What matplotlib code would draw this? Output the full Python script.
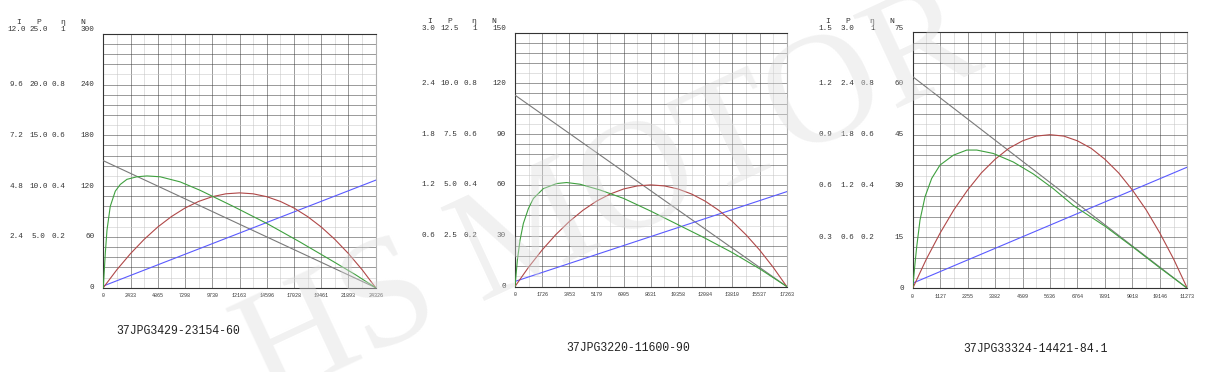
import numpy as np
import matplotlib.pyplot as plt
import matplotlib.transforms as mtransforms

W, H = 1213, 372
fig = plt.figure(figsize=(W / 100, H / 100), dpi=100)

mono = ['Liberation Mono', 'DejaVu Sans Mono']

# ---- panel 1 : 37JPG3429-23154-60
x1_max = 24326
n1_max = 300
x1_ticks = ['0', '2433', '4865', '7298', '9730', '12163', '14596', '17028', '19461', '21893', '24326']
i1_labels = ['2.4', '4.8', '7.2', '9.6', '12.0']
p1_labels = ['5.0', '10.0', '15.0', '20.0', '25.0']
n1_labels = ['0', '60', '120', '180', '240', '300']
speed1 = [150, 0]
current1 = [2, 127]
power1_x = [0, 1216, 2433, 3649, 4865, 6082, 7298, 8514, 9730, 10947, 12163, 13379, 14596, 15812,
            17028, 18245, 19461, 20677, 21893, 23110, 24326]
power1 = [0, 21.3, 40.3, 57.1, 71.7, 84, 94.1, 101.9, 107.5, 110.9, 112, 110.9, 107.5, 101.9,
          94.1, 84, 71.7, 57.1, 40.3, 21.3, 0]
eff1_x = [0, 180, 330, 620, 1070, 1520, 2110, 3000, 3900, 5080, 6860, 8650, 11610, 14590,
          17560, 20530, 22500, 24326]
eff1 = [0, 41, 68, 96, 114, 122, 128, 131, 132, 131, 125, 115, 96, 76, 54, 31, 15.5, 0]

# ---- panel 2 : 37JPG3220-11600-90
x2_max = 17263
n2_max = 150
x2_ticks = ['0', '1726', '3453', '5179', '6905', '8631', '10358', '12084', '13810', '15537', '17263']
i2_labels = ['0.6', '1.2', '1.8', '2.4', '3.0']
p2_labels = ['2.5', '5.0', '7.5', '10.0', '12.5']
n2_labels = ['0', '30', '60', '90', '120', '150']
speed2 = [113, 0]
current2 = [3, 56]
power2_x = [0, 863, 1726, 2589, 3453, 4316, 5179, 6042, 6905, 7768, 8631, 9495, 10358, 11221,
            12084, 12947, 13810, 14673, 15537, 16400, 17263]
power2 = [0, 11.4, 21.6, 30.6, 38.4, 45, 50.4, 54.6, 57.6, 59.4, 60, 59.4, 57.6, 54.6,
          50.4, 45, 38.4, 30.6, 21.6, 11.4, 0]
eff2_x = [0, 150, 320, 530, 850, 1170, 1800, 2650, 3280, 4130, 5400, 6905, 8631, 10358,
          12084, 13810, 15537, 17263]
eff2 = [0, 15.6, 27.4, 37.2, 46, 52, 57.8, 60.8, 61.4, 60.4, 57, 52, 44.5, 36.5, 28.5, 20, 10.5, 0]

# ---- panel 3 : 37JPG33324-14421-84.1
x3_max = 11273
n3_max = 75
x3_ticks = ['0', '1127', '2255', '3382', '4509', '5636', '6764', '7891', '9018', '10146', '11273']
i3_labels = ['0.3', '0.6', '0.9', '1.2', '1.5']
p3_labels = ['0.6', '1.2', '1.8', '2.4', '3.0']
n3_labels = ['0', '15', '30', '45', '60', '75']
speed3 = [62, 0]
current3 = [1.5, 35.5]
power3_x = [0, 564, 1127, 1691, 2255, 2818, 3382, 3946, 4509, 5073, 5636, 6200, 6764, 7328,
            7891, 8455, 9018, 9582, 10146, 10709, 11273]
power3 = [0, 8.6, 16.2, 23, 28.8, 33.8, 37.8, 41, 43.2, 44.6, 45, 44.6, 43.2, 41,
          37.8, 33.8, 28.8, 23, 16.2, 8.6, 0]
eff3_x = [0, 95, 165, 300, 505, 780, 1120, 1670, 2220, 2630, 3310, 4130, 4950, 5770,
          6590, 7891, 9018, 10146, 11273]
eff3 = [0, 7.3, 12.2, 20, 26.8, 32.2, 36.1, 39, 40.5, 40.5, 39.5, 37, 33.5, 29.2, 24.3, 18.2, 12.2, 6, 0]

eta_labels = ['0.2', '0.4', '0.6', '0.8', '1']


def px_axes(left, top, right, bottom):
    return fig.add_axes([left / W, 1 - bottom / H, (right - left) / W, (bottom - top) / H])


def panel(box, xmax, nmax, xticks, ilab, plab, nlab, speed, current, px, pw, ex, ef, title, tpos):
    ax = px_axes(*box)
    ax.set_xlim(0, xmax)
    ax.set_ylim(0, nmax)

    # grid
    for k in range(1, 20):
        c = '#3a3a3a' if k % 2 == 0 else '#c4c4c4'
        ax.axvline(xmax * k / 20, color=c, lw=0.72, ls=(0, (1, 1)), zorder=1)
    for k in range(1, 25):
        c = '#c4c4c4' if k % 5 == 1 else '#3a3a3a'
        ax.axhline(nmax * k / 25, color=c, lw=0.72, ls=(0, (1, 1)), zorder=1)
    for s in ['left', 'bottom', 'top']:
        ax.spines[s].set_color('#333333')
        ax.spines[s].set_linewidth(0.8)
    ax.spines['right'].set_color('#b0b0b0')
    ax.spines['right'].set_linewidth(0.8)

    ax.plot([0, xmax], speed, color='#7a7a7a', lw=0.8, zorder=3)
    ax.plot([0, xmax], current, color='#5a5aff', lw=0.8, zorder=3)
    ax.plot(px, pw, color='#b04848', lw=0.8, zorder=3)
    ax.plot(ex, ef, color='#3fa03f', lw=0.8, zorder=3)

    ax.set_xticks(np.linspace(0, xmax, 11))
    ax.set_xticklabels(xticks, fontsize=3.6, family=mono, color='#333333')
    ax.tick_params(axis='x', length=0, pad=4)
    ax.set_yticks([])

    base = mtransforms.blended_transform_factory(ax.transAxes, ax.transData)

    def put(dx, v, s, ha, dy=0, size=5.5):
        tr = mtransforms.offset_copy(base, fig=fig, x=dx, y=dy, units='dots')
        ax.text(0, v, s, transform=tr, ha=ha, va='center', fontsize=size,
                family=mono, color='#333333', clip_on=False)

    for r in range(6):
        v = nmax * r / 5
        dy = 4 if r == 5 else 0
        put(-9, v, nlab[r], 'right', dy)
        if r > 0:
            put(-87, v, ilab[r - 1], 'center', dy)
            put(-65, v, plab[r - 1], 'center', dy)
            put(-38, v, eta_labels[r - 1], 'right', dy)
    for dx, s in [(-85, 'I'), (-65, 'P'), (-41, 'η'), (-21, 'N')]:
        put(dx, nmax, s, 'center', 11, 5.8)

    fig.text(tpos[0] / W, 1 - tpos[1] / H, title, ha='left', va='center',
             fontsize=8.3, family=mono, color='#222222')
    return ax


panel((103.3, 33.7, 375.7, 287.7), x1_max, n1_max, x1_ticks, i1_labels, p1_labels, n1_labels,
      speed1, current1, power1_x, power1, eff1_x, eff1, '37JPG3429-23154-60', (116.7, 331))
panel((515, 32.5, 786.7, 286.5), x2_max, n2_max, x2_ticks, i2_labels, p2_labels, n2_labels,
      speed2, current2, power2_x, power2, eff2_x, eff2, '37JPG3220-11600-90', (566.7, 348.3))
panel((912.7, 32.3, 1187.3, 288.3), x3_max, n3_max, x3_ticks, i3_labels, p3_labels, n3_labels,
      speed3, current3, power3_x, power3, eff3_x, eff3, '37JPG33324-14421-84.1', (963.3, 349.3))

# watermark
fig.text(610 / W, 1 - 200 / H, 'HS MOTOR', rotation=25, fontsize=112, family='Liberation Serif',
         color='#dcdcdc', alpha=0.4, ha='center', va='center', zorder=20)

fig.savefig('out.png', dpi=100)
